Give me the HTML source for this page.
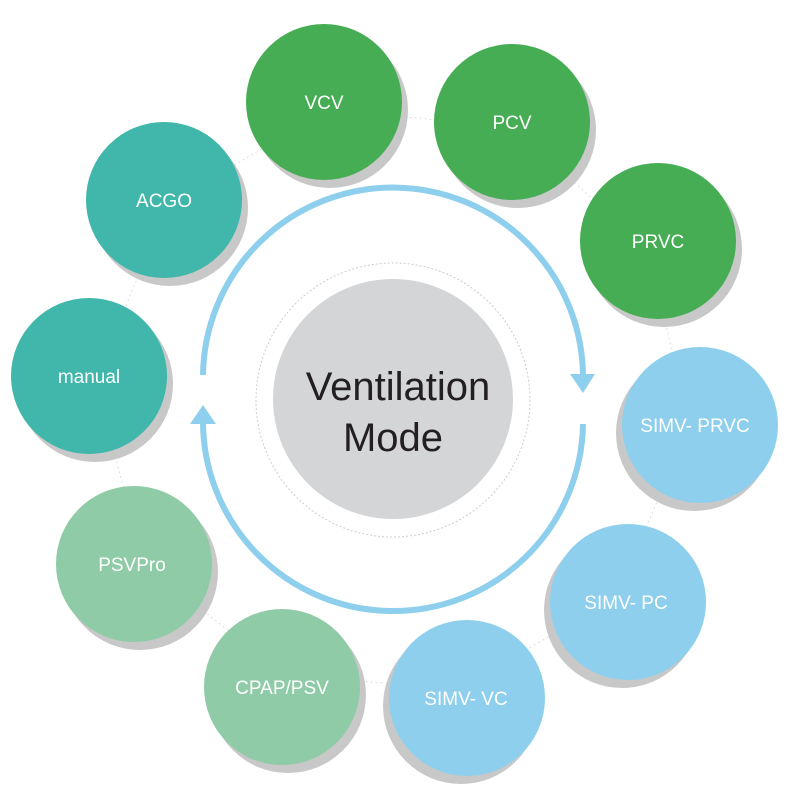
<!DOCTYPE html>
<html><head><style>html,body{margin:0;padding:0;background:#fff;}</style></head>
<body>
<svg width="800" height="800" viewBox="0 0 800 800" xmlns="http://www.w3.org/2000/svg" font-family="Liberation Sans, sans-serif">
<circle cx="393" cy="400" r="283" fill="none" stroke="#ddd" stroke-width="1" stroke-dasharray="2,3"/>
<g id="nodes">
<circle cx="330" cy="110" r="78" fill="#c8c8c8"/><circle cx="324" cy="102" r="78" fill="#46ad55"/>
<circle cx="518" cy="130" r="78" fill="#c8c8c8"/><circle cx="512" cy="122" r="78" fill="#46ad55"/>
<circle cx="664" cy="249" r="78" fill="#c8c8c8"/><circle cx="658" cy="241" r="78" fill="#46ad55"/>
<circle cx="694" cy="433" r="78" fill="#c8c8c8"/><circle cx="700" cy="425" r="78" fill="#8dcfec"/>
<circle cx="622" cy="610" r="78" fill="#c8c8c8"/><circle cx="628" cy="602" r="78" fill="#8dcfec"/>
<circle cx="461" cy="706" r="78" fill="#c8c8c8"/><circle cx="467" cy="698" r="78" fill="#8dcfec"/>
<circle cx="288" cy="695" r="78" fill="#c8c8c8"/><circle cx="282" cy="687" r="78" fill="#8ecba6"/>
<circle cx="140" cy="572" r="78" fill="#c8c8c8"/><circle cx="134" cy="564" r="78" fill="#8ecba6"/>
<circle cx="95" cy="384" r="78" fill="#c8c8c8"/><circle cx="89" cy="376" r="78" fill="#41b6ab"/>
<circle cx="170" cy="208" r="78" fill="#c8c8c8"/><circle cx="164" cy="200" r="78" fill="#41b6ab"/>
</g>
<g fill="#fff" font-size="19" text-anchor="middle">
<text x="324" y="109">VCV</text>
<text x="512" y="129">PCV</text>
<text x="658" y="248">PRVC</text>
<text x="695" y="432">SIMV- PRVC</text>
<text x="626" y="609">SIMV- PC</text>
<text x="466" y="705">SIMV- VC</text>
<text x="282" y="694">CPAP/PSV</text>
<text x="132" y="571">PSVPro</text>
<text x="89" y="383">manual</text>
<text x="164" y="207">ACGO</text>
</g>
<circle cx="393" cy="400" r="137" fill="none" stroke="#ccc" stroke-width="1" stroke-dasharray="2,2"/>
<circle cx="393" cy="399" r="120" fill="#d4d5d7"/>
<g fill="none" stroke="#8dcfec" stroke-width="6">
<path d="M203 375 A190 190 0 0 1 583 380"/>
<path d="M583 424 A190 190 0 0 1 203 418"/>
</g>
<polygon points="570,374 595,374 583,393" fill="#8dcfec"/>
<polygon points="190,424 216,424 203,405" fill="#8dcfec"/>
<g fill="#231f20" font-size="40" text-anchor="middle">
<text x="398" y="400">Ventilation</text>
<text x="393" y="451">Mode</text>
</g>
</svg>
</body></html>
